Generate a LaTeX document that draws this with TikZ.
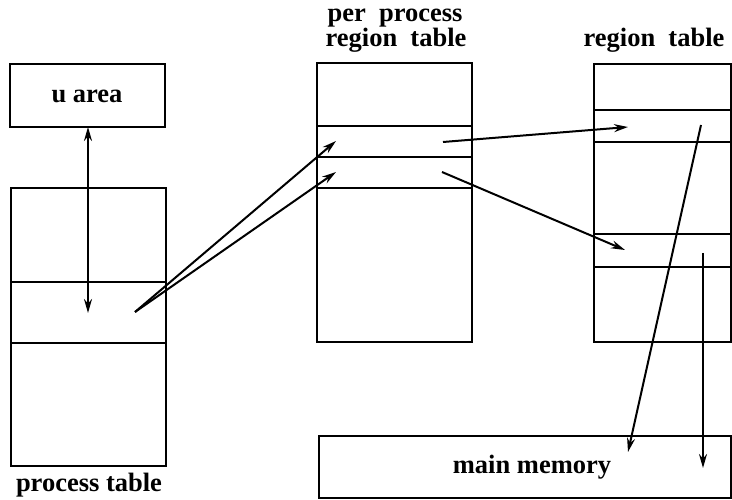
\documentclass[tikz,border=0pt]{standalone}
\usepackage{fontspec}
\setmainfont{Liberation Serif}
\usetikzlibrary{arrows.meta}
\begin{document}
\begin{tikzpicture}[x=1pt,y=-1pt,
  box/.style={draw,line width=2.8pt,inner sep=0pt},
  sep/.style={line width=2.3pt},
  lbl/.style={anchor=base,inner sep=0pt,font=\fontsize{26.5}{30}\selectfont\bfseries},
  arr/.style={line width=2pt,-{Stealth[length=14pt,width=8pt]}},
  darr/.style={line width=2pt,{Stealth[length=14pt,width=8pt]}-{Stealth[length=14pt,width=8pt]}}]
\useasboundingbox (0,0) rectangle (732,500);
% boxes
\draw[box] (10,64) rectangle (165,127);
\draw[box] (11,188) rectangle (166,466);
\draw[sep] (11,282) -- (166,282);
\draw[sep] (11,343) -- (166,343);
\draw[box] (317,63) rectangle (472,342);
\draw[sep] (317,126) -- (472,126);
\draw[sep] (317,157) -- (472,157);
\draw[sep] (317,188) -- (472,188);
\draw[box] (594,64) rectangle (731,342);
\draw[sep] (594,110) -- (731,110);
\draw[sep] (594,142) -- (731,142);
\draw[sep] (594,234) -- (731,234);
\draw[sep] (594,267) -- (731,267);
\draw[box] (319,436) rectangle (731,498);
% labels
\node[lbl] (ua) at (87,103) {u area};
\node[lbl] (pt) at (89,491) {process table};
\node[lbl] (pp1) at (395,22) {per\ \ process};
\node[lbl] (pp2) at (396,47) {region\ \ table};
\node[lbl] (rt) at (654,47) {region\ \ table};
\node[lbl] (mm) at (532,473) {main memory};
% connector points
\coordinate (uaB) at (88,127);
\coordinate (ptS) at (88,313);
\coordinate (ptE) at (135,312);
\coordinate (ppA) at (336,141);
\coordinate (ppB) at (336,172);
\coordinate (ppAo) at (443,142);
\coordinate (ppBo) at (442,172);
\coordinate (rtA) at (628,127);
\coordinate (rtB) at (625,250);
\coordinate (rtAo) at (701,125);
\coordinate (rtBo) at (703,253);
\coordinate (mmA) at (628,452);
\coordinate (mmB) at (703,468);
% connectors
\draw[darr] (uaB) -- (ptS);
\draw[arr] (ptE) -- (ppA);
\draw[arr] (ptE) -- (ppB);
\draw[arr] (ppAo) -- (rtA);
\draw[arr] (ppBo) -- (rtB);
\draw[arr] (rtAo) -- (mmA);
\draw[arr] (rtBo) -- (mmB);
\end{tikzpicture}
\end{document}
